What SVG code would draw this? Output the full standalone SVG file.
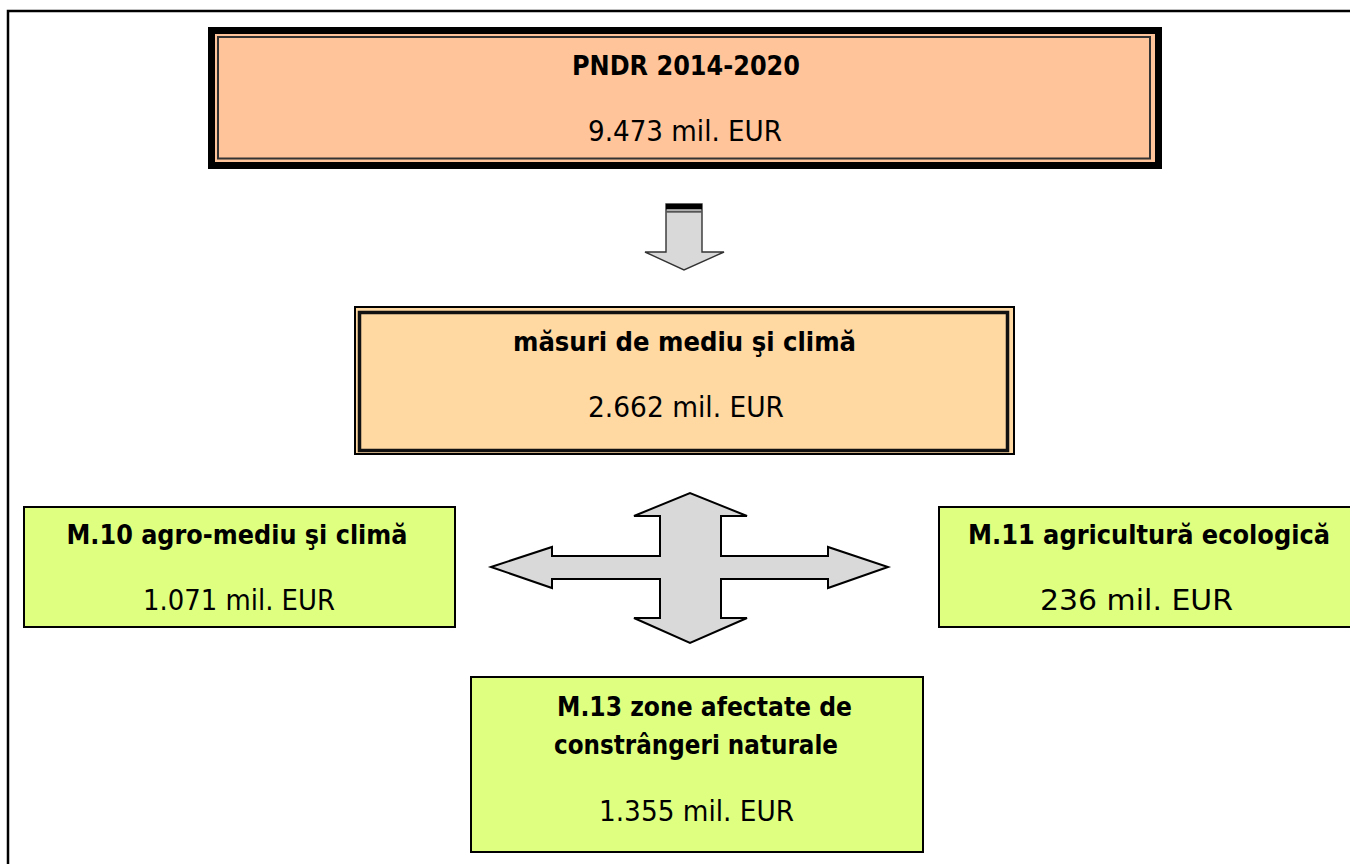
<svg xmlns="http://www.w3.org/2000/svg" width="1350" height="864" viewBox="0 0 1350 864">
<style>
.t{font-family:"DejaVu Sans","Liberation Sans",sans-serif;font-size:28px;fill:#000;text-anchor:middle}
.b{font-weight:bold;font-size:27px}
.g{fill:#DFFF80;stroke:#000;stroke-width:2}
.arr{fill:#D9D9D9;stroke:#000;stroke-width:2;stroke-linejoin:miter}
</style>
<rect width="1350" height="864" fill="#fff"/>
<polyline points="8,864 8,11 1350,11" fill="none" stroke="#000" stroke-width="2.5"/>
<g id="pndr">
<rect x="211.5" y="30.5" width="947" height="135" fill="#FFC499" stroke="#000" stroke-width="7"/>
<rect x="218" y="37" width="932" height="121.5" fill="none" stroke="#333" stroke-width="2"/>
<text class="t b" x="686" y="75" textLength="228" lengthAdjust="spacingAndGlyphs">PNDR 2014-2020</text>
<text class="t" x="685" y="141" textLength="194" lengthAdjust="spacingAndGlyphs">9.473 mil. EUR</text>
</g>
<g id="masuri">
<rect x="355" y="307" width="659" height="147" fill="#FFD8A2" stroke="#000" stroke-width="2"/>
<rect x="359.5" y="312.5" width="648" height="138" fill="none" stroke="#111" stroke-width="3.5"/>
<text class="t b" x="684.5" y="351" textLength="343" lengthAdjust="spacingAndGlyphs">măsuri de mediu şi climă</text>
<text class="t" x="686" y="417" textLength="196" lengthAdjust="spacingAndGlyphs">2.662 mil. EUR</text>
</g>
<g id="m10">
<rect class="g" x="24" y="507" width="431" height="120"/>
<text class="t b" x="237" y="544" textLength="341" lengthAdjust="spacingAndGlyphs">M.10 agro-mediu şi climă</text>
<text class="t" x="239" y="610" textLength="192" lengthAdjust="spacingAndGlyphs">1.071 mil. EUR</text>
</g>
<g id="m11">
<rect class="g" x="939" y="507" width="420" height="120"/>
<text class="t b" x="1149" y="544" textLength="362" lengthAdjust="spacingAndGlyphs">M.11 agricultură ecologică</text>
<text class="t" x="1136.5" y="610" style="font-size:29px" textLength="193" lengthAdjust="spacingAndGlyphs">236 mil. EUR</text>
</g>
<g id="m13">
<rect class="g" x="471" y="677" width="452" height="175"/>
<text class="t b" x="704.5" y="716" textLength="295" lengthAdjust="spacingAndGlyphs">M.13 zone afectate de</text>
<text class="t b" x="696" y="754" textLength="284" lengthAdjust="spacingAndGlyphs">constrângeri naturale</text>
<text class="t" x="696.5" y="821" textLength="195" lengthAdjust="spacingAndGlyphs">1.355 mil. EUR</text>
</g>
<g id="connectors">
<g id="down-arrow">
<polygon points="666,204 702,204 702,252 724,252 684,270 645,252 666,252" fill="#D9D9D9" stroke="#333" stroke-width="1.4"/>
<rect x="666" y="204" width="36" height="5.3" fill="#000"/>
<rect x="666" y="210.7" width="36" height="2" fill="#555"/>
</g>
<polygon class="arr" points="491,567 552,547 552,556 660,556 660,516 634,516 690,493 747,516 721,516 721,556 828,556 828,547 888,567 828,588 828,579 721,579 721,618 747,618 690,643 634,618 660,618 660,579 552,579 552,588"/>
</g>
</svg>
